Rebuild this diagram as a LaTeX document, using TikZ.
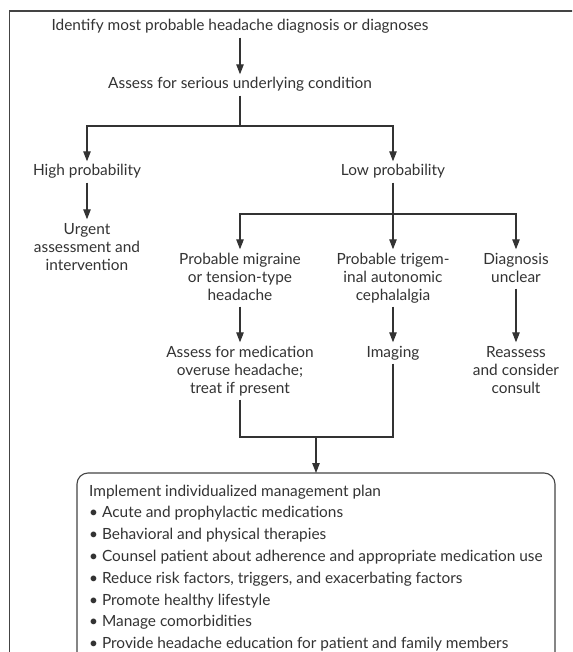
\documentclass[tikz,border=0pt]{standalone}
\usepackage{fontspec}
\setmainfont{Lato}
\usetikzlibrary{arrows.meta}
\definecolor{ink}{HTML}{333333}
\definecolor{framec}{HTML}{444444}
\tikzset{
  lbl/.style={align=center, text=ink, font=\fontsize{15.4}{18}\selectfont,
    inner xsep=2pt, inner ysep=3.5pt, text height=11pt, text depth=3pt},
  lbltwo/.style={lbl, text height=29pt},
  lblthree/.style={lbl, text height=47pt},
  conn/.style={draw=ink, line width=1.1pt},
  arr/.style={conn, -{Triangle[length=10pt,width=7.5pt]}},
}
\begin{document}
\begin{tikzpicture}[x=1pt,y=-1pt]
\useasboundingbox (0,0) rectangle (572,652);
\clip (0,0) rectangle (572,652);
\fill[white] (0,0) rectangle (572,652);
% outer frame
\draw[framec, line width=1.6pt] (9.5,11) rectangle (590,700);

\node[lbl] (title) at (240,27) {Identify most probable headache diagnosis or diagnoses};
\node[lbl] (assess) at (240,85) {Assess for serious underlying condition};
\node[lbl] (high) at (87,172) {High probability};
\node[lbl] (low) at (393,172) {Low probability};
\node[lblthree] (urgent) at (87,248) {Urgent\\assessment and\\intervention};
\node[lblthree] (mig) at (240,278) {Probable migraine\\or tension-type\\headache};
\node[lblthree] (tac) at (393,278) {Probable trigem-\\inal autonomic\\cephalalgia};
\node[lbltwo] (unclear) at (516,269) {Diagnosis\\unclear};
\node[lblthree] (medov) at (240,371) {Assess for medication\\overuse headache;\\treat if present};
\node[lbl] (imaging) at (393,353) {Imaging};
\node[lblthree] (reassess) at (516,371) {Reassess\\and consider\\consult};

% management box
\draw[framec, line width=1.1pt, rounded corners=11pt] (77,473) rectangle (555,700);
\coordinate (boxtop) at (316,473);
\node[anchor=north west, inner sep=0pt, align=left, text=ink,
      font=\fontsize{15.4}{21.8}\selectfont] (plan) at (89,484.5)
  {Implement individualized management plan\\
   • Acute and prophylactic medications\\
   • Behavioral and physical therapies\\
   • Counsel patient about adherence and appropriate medication use\\
   • Reduce risk factors, triggers, and exacerbating factors\\
   • Promote healthy lifestyle\\
   • Manage comorbidities\\
   • Provide headache education for patient and family members};

% connectors
\coordinate (b1) at (240,126);
\coordinate (b2) at (393,214);
\coordinate (j1) at (316,437);

\draw[arr] (title) -- (assess);
\draw[conn] (assess) -- (b1);
\draw[arr] (b1) -| (high);
\draw[arr] (b1) -| (low);
\draw[arr] (high) -- (urgent);
\draw[arr] (low) -- (tac);
\draw[arr] (b2) -| (mig);
\draw[arr] (b2) -| (unclear);
\draw[arr] (mig) -- (medov);
\draw[arr] (tac) -- (imaging);
\draw[arr] (unclear) -- (reassess);
\draw[conn] (medov.south) |- (j1);
\draw[conn] (imaging.south) |- (j1);
\draw[arr] (j1) -- (boxtop);
\end{tikzpicture}
\end{document}
